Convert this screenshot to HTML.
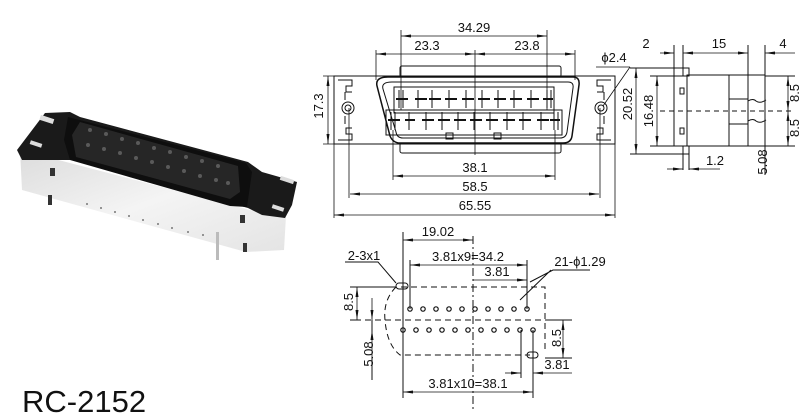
<!DOCTYPE html>
<html><head><meta charset="utf-8"><style>
html,body{margin:0;padding:0;background:#fff;}
svg{display:block;font-family:"Liberation Sans",sans-serif;}
</style></head><body>
<svg width="800" height="416" viewBox="0 0 800 416" xmlns="http://www.w3.org/2000/svg">
<defs>
<marker id="a" markerWidth="10" markerHeight="6" refX="10" refY="3" orient="auto-start-reverse" markerUnits="userSpaceOnUse"><path d="M0,1.5 L10,3 L0,4.5Z" fill="#111"/></marker>
<linearGradient id="g" x1="0" y1="0" x2="1" y2="1"><stop offset="0" stop-color="#dcdcdc"/><stop offset="0.5" stop-color="#f4f4f4"/><stop offset="1" stop-color="#e4e4e4"/></linearGradient>
</defs>

<!-- PHOTO -->
<g>
<polygon points="20,150 250,210 286,216 284,250 246,252 22,190" fill="url(#g)"/>
<polygon points="17,150 45,113 70,112 80,117 248,162 262,172 297,182 292,205 285,218 262,215 248,208 72,160 22,160" fill="#1a1a1a"/>
<polygon points="68,117 246,163 252,172 247,207 230,206 70,160 64,140" fill="#0e0e0e"/>
<polygon points="80,122 238,166 240,192 230,199 76,157 72,135" fill="#262626"/>
<g fill="#5a5a5a">
<circle cx="90" cy="130" r="2"/><circle cx="106" cy="134" r="2"/><circle cx="122" cy="139" r="2"/><circle cx="138" cy="143" r="2"/><circle cx="154" cy="148" r="2"/><circle cx="170" cy="152" r="2"/><circle cx="186" cy="157" r="2"/><circle cx="202" cy="161" r="2"/><circle cx="218" cy="166" r="2"/>
<circle cx="88" cy="145" r="2"/><circle cx="104" cy="149" r="2"/><circle cx="120" cy="153" r="2"/><circle cx="136" cy="158" r="2"/><circle cx="152" cy="162" r="2"/><circle cx="168" cy="167" r="2"/><circle cx="184" cy="171" r="2"/><circle cx="200" cy="176" r="2"/><circle cx="216" cy="180" r="2"/><circle cx="228" cy="183" r="2"/>
</g>
<rect x="40" y="117" width="14" height="5" fill="#ddd" transform="rotate(18 47 119)"/>
<rect x="30" y="142" width="12" height="4" fill="#ddd" transform="rotate(18 36 144)"/>
<rect x="280" y="178" width="14" height="4" fill="#ddd" transform="rotate(18 287 180)"/>
<rect x="272" y="206" width="12" height="4" fill="#ddd" transform="rotate(18 278 208)"/>
<rect x="50" y="168" width="5" height="8" fill="#333"/>
<rect x="48" y="195" width="4" height="10" fill="#333"/>
<rect x="240" y="215" width="5" height="8" fill="#333"/>
<rect x="243" y="243" width="4" height="9" fill="#333"/>
<rect x="216" y="232" width="3" height="28" fill="#bbb"/>
<g fill="#777"><circle cx="87" cy="204" r="1"/><circle cx="101" cy="208" r="1"/><circle cx="115" cy="212" r="1"/><circle cx="129" cy="216" r="1"/><circle cx="143" cy="220" r="1"/><circle cx="158" cy="224" r="1"/><circle cx="172" cy="228" r="1"/><circle cx="188" cy="232" r="1"/><circle cx="203" cy="235" r="1"/></g>
</g>

<text x="22" y="412" font-size="31" fill="#111">RC-2152</text>

<g stroke="#111" fill="none" stroke-width="1">
<!-- FRONT VIEW -->
<rect x="334" y="76" width="281" height="68"/>
<rect x="400" y="66" width="161" height="11" rx="2"/>
<rect x="400" y="143" width="161" height="10" rx="2"/>
<path d="M388,77 H573 Q580,77 579,85 L572,136 Q571,143 563,143 H400 Q393,143 390,136 L377,86 Q375,77 388,77Z" stroke-width="1.5"/>
<path d="M392,82 H568 Q574,82 573,88 L567,132 Q566,138 560,138 H403 Q397,138 396,132 L383,89 Q381,82 392,82Z"/>
<rect x="394" y="87" width="160" height="26"/>
<rect x="386" y="110" width="176" height="25"/>
<circle cx="348" cy="108" r="6"/><circle cx="348" cy="108" r="3"/>
<circle cx="601" cy="108" r="6"/><circle cx="601" cy="108" r="3"/>
<path d="M338,80 h14 v6 h-6 v6 h6 M338,140 h14 v-6 h-6 v-6 h6 M611,80 h-14 v6 h6 v6 h-6 M611,140 h-14 v-6 h6 v-6 h-6"/>
<path d="M345,92 v8 M345,116 v8 M604,92 v8 M604,116 v8"/>
<rect x="446" y="133" width="7" height="6"/><rect x="494" y="133" width="7" height="6"/>
</g>
<g stroke="#111" stroke-width="2">
<path d="M396,99 h12 M415,99 h12 M429,99 h12 M445,99 h12 M462,99 h12 M478,99 h12 M494,99 h12 M510,99 h12 M527,99 h12 M543,99 h10"/>
<path d="M388,120 h12 M405,120 h10 M422,120 h12 M438,120 h12 M454,120 h12 M470,120 h12 M486,120 h12 M503,120 h12 M519,120 h12 M537,120 h12 M550,120 h10"/>
</g>
<g stroke="#111" stroke-width="1">
<path d="M399,90 v18 M403,90 v18 M418,90 v18 M432,90 v18 M449,90 v18 M466,90 v18 M482,90 v18 M498,90 v18 M514,90 v18 M531,90 v18 M547,90 v18 M551,90 v18"/>
<path d="M391,112 v18 M395,112 v18 M409,112 v18 M426,112 v18 M442,112 v18 M458,112 v18 M474,112 v18 M490,112 v18 M507,112 v18 M523,112 v18 M541,112 v18 M554,112 v18 M558,112 v18"/>
</g>
<g stroke="#111" stroke-width="0.8" fill="none">
<path d="M401,30 V110 M547,30 V110 M376,50 V80 M575,50 V80 M475,50 V155 M393,130 V180 M555,130 V180 M349,108 V198 M600,108 V198 M334,144 V218 M615,144 V218 M323,76 H334 M323,144 H334"/>
</g>
<g stroke="#111" stroke-width="0.8" fill="none" marker-start="url(#a)" marker-end="url(#a)">
<line x1="401" y1="36" x2="547" y2="36"/>
<line x1="376" y1="54" x2="475" y2="54"/>
<line x1="475" y1="54" x2="575" y2="54"/>
<line x1="393" y1="176" x2="555" y2="176"/>
<line x1="350" y1="194" x2="599" y2="194"/>
<line x1="334" y1="215" x2="615" y2="215"/>
<line x1="328" y1="76" x2="328" y2="144"/>
</g>
<path d="M596,67 H630 M630,67 L603,106" stroke="#111" stroke-width="0.8" fill="none"/>
<g font-size="13" fill="#111" text-anchor="middle">
<text x="474" y="32">34.29</text>
<text x="427" y="50">23.3</text>
<text x="527" y="50">23.8</text>
<text x="475" y="172">38.1</text>
<text x="475" y="191">58.5</text>
<text x="475" y="210">65.55</text>
<text x="614" y="62">ϕ2.4</text>
<text transform="translate(323,106) rotate(-90)">17.3</text>
</g>

<!-- SIDE VIEW -->
<g stroke="#111" stroke-width="1" fill="none">
<rect x="674" y="76" width="13" height="70"/>
<rect x="687" y="75" width="78" height="71"/>
<rect x="683" y="68" width="6" height="8"/>
<rect x="683" y="146" width="6" height="8"/>
<rect x="729" y="75" width="19" height="71"/>
<rect x="729" y="99" width="19" height="25"/>
<rect x="680" y="88" width="4" height="6"/><rect x="680" y="128" width="4" height="6"/>
<path d="M748,101 q5,-3 8,0 q4,3 10,-1 M748,121 q5,-3 8,0 q4,3 10,-1"/>
<path d="M660,111 H795" stroke-dasharray="5,4"/>
<path d="M674,45 V76 M683,45 V68 M748,45 V75 M765,45 V75 M630,68 H683 M630,154 H683 M650,76 H674 M650,146 H674 M765,76 H795 M765,146 H795 M683,154 V170 M689,154 V170 M765,146 V175"/>
</g>
<g stroke="#111" stroke-width="0.8" fill="none" marker-start="url(#a)" marker-end="url(#a)">
<line x1="683" y1="53" x2="748" y2="53"/>
<line x1="636" y1="68" x2="636" y2="154"/>
<line x1="657" y1="76" x2="657" y2="146"/>
<line x1="788" y1="76" x2="788" y2="111"/>
<line x1="788" y1="111" x2="788" y2="146"/>
</g>
<g stroke="#111" stroke-width="0.8" fill="none" marker-end="url(#a)">
<line x1="660" y1="53" x2="674" y2="53"/>
<line x1="795" y1="53" x2="765" y2="53"/>
<line x1="667" y1="169" x2="683" y2="169"/>
<line x1="720" y1="169" x2="689" y2="169"/>
</g>
<g font-size="13" fill="#111" text-anchor="middle">
<text x="646" y="48">2</text>
<text x="719" y="48">15</text>
<text x="783" y="48">4</text>
<text x="715" y="165">1.2</text>
<text transform="translate(632,104) rotate(-90)">20.52</text>
<text transform="translate(653,111) rotate(-90)">16.48</text>
<text transform="translate(799,93) rotate(-90)">8.5</text>
<text transform="translate(799,128) rotate(-90)">8.5</text>
<text transform="translate(767,162) rotate(-90)">5.08</text>
</g>

<!-- PCB LAYOUT -->
<g stroke="#111" stroke-width="1" fill="none" stroke-dasharray="6,4">
<path d="M401,287 H545 V350 M396,287 Q383,300 385,320 Q387,345 400,355 H530 M355,320 H565"/>
<path d="M473,236 V410" stroke-dasharray="8,3,2,3"/>
</g>
<g stroke="#111" stroke-width="1" fill="none">
<rect x="396" y="283" width="12" height="6" rx="3"/>
<rect x="527" y="352" width="11" height="6" rx="3"/>
<g stroke-width="1.2">
<circle cx="410" cy="309" r="2.2"/><circle cx="423" cy="309" r="2.2"/><circle cx="436" cy="309" r="2.2"/><circle cx="449" cy="309" r="2.2"/><circle cx="462" cy="309" r="2.2"/><circle cx="475" cy="309" r="2.2"/><circle cx="488" cy="309" r="2.2"/><circle cx="501" cy="309" r="2.2"/><circle cx="514" cy="309" r="2.2"/><circle cx="527" cy="309" r="2.2"/>
<circle cx="403" cy="330" r="2.2"/><circle cx="416" cy="330" r="2.2"/><circle cx="429" cy="330" r="2.2"/><circle cx="442" cy="330" r="2.2"/><circle cx="455" cy="330" r="2.2"/><circle cx="468" cy="330" r="2.2"/><circle cx="481" cy="330" r="2.2"/><circle cx="494" cy="330" r="2.2"/><circle cx="507" cy="330" r="2.2"/><circle cx="520" cy="330" r="2.2"/><circle cx="533" cy="330" r="2.2"/>
</g>
<path d="M403,232 V330 M410,260 V309 M527,260 V309 M403,330 V398 M533,330 V398 M521,330 V378 M533,358 V378 M350,287 H396 M350,320 H360 M548,320 H572 M545,358 H572 M372,320 V338 M372,358 V380"/>
<path d="M345,262 H378 L396,283 M530,282 L553,270 H590 M551,270 L520,300"/>
</g>
<g stroke="#111" stroke-width="0.8" fill="none" marker-start="url(#a)" marker-end="url(#a)">
<line x1="403" y1="240" x2="473" y2="240"/>
<line x1="410" y1="265" x2="527" y2="265"/>
<line x1="403" y1="392" x2="533" y2="392"/>
<line x1="357" y1="287" x2="357" y2="320"/>
<line x1="563" y1="320" x2="563" y2="358"/>
</g>
<g stroke="#111" stroke-width="0.8" fill="none" marker-end="url(#a)">
<line x1="473" y1="280" x2="527" y2="280"/>
<line x1="372" y1="298" x2="372" y2="320"/>
<line x1="372" y1="380" x2="372" y2="330"/>
<line x1="505" y1="373" x2="521" y2="373"/>
<line x1="572" y1="373" x2="533" y2="373"/>
</g>
<g font-size="13" fill="#111" text-anchor="middle">
<text x="438" y="236">19.02</text>
<text x="468" y="261">3.81x9=34.2</text>
<text x="497" y="276">3.81</text>
<text x="364" y="260">2-3x1</text>
<text x="580" y="266">21-ϕ1.29</text>
<text x="557" y="369">3.81</text>
<text x="468" y="388">3.81x10=38.1</text>
<text transform="translate(353,302) rotate(-90)">8.5</text>
<text transform="translate(373,354) rotate(-90)">5.08</text>
<text transform="translate(561,338) rotate(-90)">8.5</text>
</g>
</svg>
</body></html>
